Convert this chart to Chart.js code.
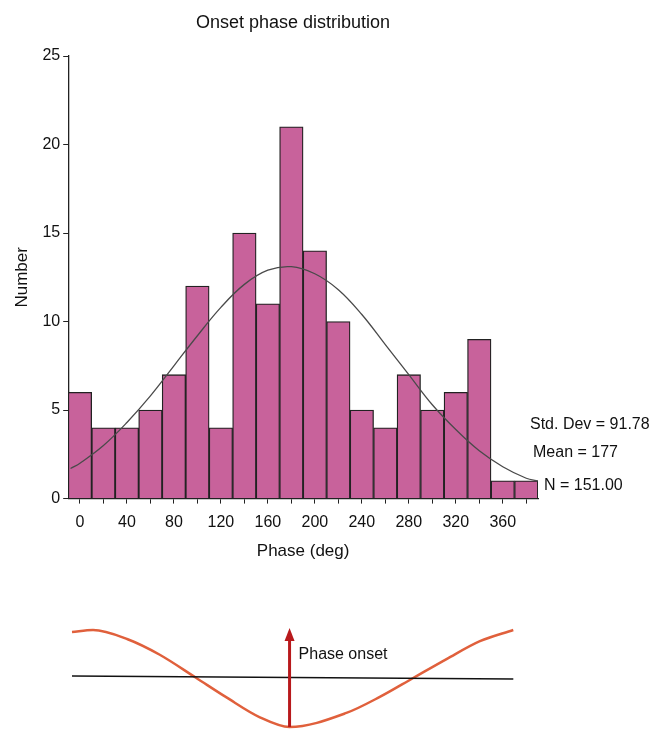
<!DOCTYPE html>
<html>
<head>
<meta charset="utf-8">
<script src="https://cdn.jsdelivr.net/npm/chart.js@4.4.1/dist/chart.umd.min.js"></script>
<style>
  body { margin: 0; background: #fff; }
  #wrap { position: relative; width: 670px; height: 729px; }
  #histo { position: absolute; left: 0; top: 0; }
  #wave { position: absolute; left: 0; top: 600px; }
</style>
</head>
<body>
<div id="wrap">
  <canvas id="histo" width="670" height="575"></canvas>
  <canvas id="wave" width="670" height="129"></canvas>
</div>
<script>
// histogram bins (centre of each 20 deg bin) and counts
const phaseBins = ['0','20','40','60','80','100','120','140','160','180','200','220','240','260','280','300','320','340','360','380']
const counts = [6, 4, 4, 5, 7, 12, 4, 15, 11, 21, 14, 10, 5, 4, 7, 5, 6, 9, 1, 1]

// fitted normal curve
const curveX = [-8, 0, 20, 40, 60, 80, 100, 120, 140, 160, 180, 200, 220, 240, 260, 280, 300, 320, 340, 360, 380, 390]
const curveY = [1.7, 2.0, 3.0, 4.3, 5.8, 7.5, 9.2, 10.8, 12.1, 12.9, 13.1, 12.7, 11.8, 10.4, 8.7, 7.0, 5.3, 3.9, 2.7, 1.8, 1.15, 1.0]

const yTicks = [0, 5, 10, 15, 20, 25]
const statsLines = ['Std. Dev = 91.78', 'Mean = 177', 'N = 151.00']

// lower sketch: one cycle of the signal, threshold line, onset arrow
const waveX = [0, 17, 45, 71, 100, 125, 152, 176, 222, 249, 276, 303, 330, 357]
const waveY = [0.96, 1.0, 0.81, 0.49, 0.02, -0.39, -0.8, -1.0, -0.71, -0.38, 0.01, 0.4, 0.77, 1.0]
const thresholdX = [0, 357]
const thresholdY = [0.05, -0.01]
const onsetPhase = 176

const FONT = 'Liberation Sans, Arial, sans-serif'

const textPlugin = {
  id: 'texts',
  afterDraw(chart) {
    const ctx = chart.ctx
    const a = chart.chartArea
    ctx.save()
    ctx.fillStyle = '#111'
    ctx.textBaseline = 'middle'
    ctx.font = '18px ' + FONT
    ctx.textAlign = 'center'
    ctx.fillText('Onset phase distribution', 293, 23)
    ctx.textAlign = 'left'
    ctx.font = '16px ' + FONT
    ctx.fillText(statsLines[0], a.right - 8, 425)
    ctx.fillText(statsLines[1], a.right - 5, 453)
    ctx.fillText(statsLines[2], a.right + 6, 486)
    ctx.restore()
  }
}

new Chart(document.getElementById('histo'), {
  type: 'bar',
  data: {
    labels: phaseBins,
    datasets: [{
      type: 'line',
      data: curveX.map((x, i) => ({ x: x, y: curveY[i] })),
      xAxisID: 'x2',
      borderColor: '#4a4a4a',
      borderWidth: 1.3,
      pointRadius: 0,
      tension: 0.4,
      fill: false,
      order: 0
    }, {
      data: counts,
      backgroundColor: '#c8629b',
      borderColor: '#222',
      borderWidth: 1.3,
      barPercentage: 1,
      categoryPercentage: 1,
      grouped: false,
      order: 1
    }]
  },
  options: {
    responsive: false,
    animation: false,
    layout: { padding: { left: 8, right: 132, top: 56, bottom: 13 } },
    plugins: { legend: { display: false }, tooltip: { enabled: false } },
    scales: {
      x: {
        offset: true,
        grid: { offset: false, drawOnChartArea: false, drawTicks: true, tickLength: 5, color: '#222' },
        border: { color: '#222', width: 1.3 },
        ticks: {
          autoSkip: false, maxRotation: 0, padding: 11, color: '#111',
          font: { family: FONT, size: 16, lineHeight: 1 },
          callback: function (v, i) { return i % 2 === 0 ? phaseBins[i] : '' }
        },
        title: { display: true, text: 'Phase (deg)', color: '#111', font: { family: FONT, size: 17 }, padding: { top: 0, bottom: 0 } }
      },
      x2: { type: 'linear', display: false, offset: false, min: -10, max: 390 },
      y: {
        min: 0, max: 25,
        afterBuildTicks: function (s) { s.ticks = yTicks.map(v => ({ value: v })) },
        grid: { drawOnChartArea: false, drawTicks: true, tickLength: 5, color: '#222' },
        border: { color: '#222', width: 1.3 },
        ticks: { padding: 3, color: '#111', font: { family: FONT, size: 16 } },
        title: { display: true, text: 'Number', color: '#111', font: { family: FONT, size: 17 }, padding: { top: 4, bottom: 7 } }
      }
    }
  },
  plugins: [textPlugin]
})

const arrowPlugin = {
  id: 'arrow',
  afterDatasetsDraw(chart) {
    const ctx = chart.ctx
    const xs = chart.scales.x, ys = chart.scales.y
    const px = xs.getPixelForValue(onsetPhase)
    const yBottom = ys.getPixelForValue(-1.0)
    const yTop = ys.getPixelForValue(1.04)
    ctx.save()
    ctx.strokeStyle = '#b8191c'
    ctx.fillStyle = '#b8191c'
    ctx.lineWidth = 3
    ctx.beginPath()
    ctx.moveTo(px, yBottom)
    ctx.lineTo(px, yTop + 10)
    ctx.stroke()
    ctx.beginPath()
    ctx.moveTo(px, yTop)
    ctx.lineTo(px - 5, yTop + 13)
    ctx.lineTo(px + 5, yTop + 13)
    ctx.closePath()
    ctx.fill()
    ctx.fillStyle = '#111'
    ctx.font = '16px ' + FONT
    ctx.textAlign = 'left'
    ctx.textBaseline = 'middle'
    ctx.fillText('Phase onset', px + 9, ys.getPixelForValue(0.5))
    ctx.restore()
  }
}

new Chart(document.getElementById('wave'), {
  type: 'line',
  data: {
    datasets: [{
      data: thresholdX.map((x, i) => ({ x: x, y: thresholdY[i] })),
      borderColor: '#111',
      borderWidth: 1.5,
      pointRadius: 0
    }, {
      data: waveX.map((x, i) => ({ x: x, y: waveY[i] })),
      borderColor: '#e0603c',
      borderWidth: 2.5,
      pointRadius: 0,
      cubicInterpolationMode: 'monotone',
      clip: false
    }]
  },
  options: {
    responsive: false,
    animation: false,
    layout: { padding: { left: 72, right: 153, top: 30, bottom: 2 } },
    plugins: { legend: { display: false }, tooltip: { enabled: false } },
    scales: {
      x: { type: 'linear', display: false, min: 0, max: 360 },
      y: { display: false, min: -1, max: 1 }
    }
  },
  plugins: [arrowPlugin]
})
</script>
</body>
</html>
